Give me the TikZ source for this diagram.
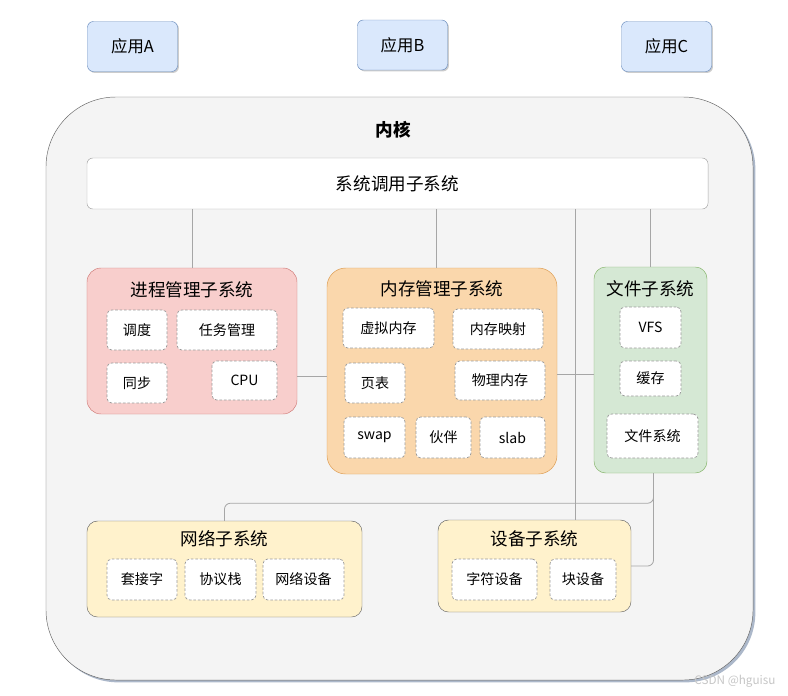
\documentclass[tikz,border=0pt]{standalone}
\usepackage{fontspec}
\setmainfont{Noto Sans CJK SC}
\usetikzlibrary{positioning, calc, shadows}

\definecolor{appfill}{HTML}{DAE8FC}
\definecolor{appdraw}{HTML}{6C8EBF}
\definecolor{kernfill}{HTML}{F4F4F4}
\definecolor{kerndraw}{HTML}{666666}
\definecolor{procfill}{HTML}{F8CECC}
\definecolor{procdraw}{HTML}{D07B78}
\definecolor{memfill}{HTML}{FAD7AC}
\definecolor{memdraw}{HTML}{DC9A4E}
\definecolor{fsfill}{HTML}{D5E8D4}
\definecolor{fsdraw}{HTML}{82B366}
\definecolor{devfill}{HTML}{FFF2CC}
\definecolor{linkgray}{HTML}{A6A6A6}

\begin{document}
\begin{tikzpicture}[x=0.03cm, y=-0.03cm,
  app/.style={rectangle,draw=appdraw,fill=appfill,rounded corners=5pt, minimum width=2.7cm,minimum height=1.5cm,inner sep=0pt,font=\fontsize{14}{16}\selectfont, drop shadow={shadow xshift=1.2pt,shadow yshift=-1.2pt,fill=black!40,opacity=0.5}},
  kern/.style={rectangle,draw=kerndraw,fill=kernfill,rounded corners=2.1cm, minimum width=21.21cm,minimum height=17.49cm,inner sep=0pt, drop shadow={shadow xshift=2pt,shadow yshift=-2pt,fill=appdraw!60!gray,opacity=0.6}},
  sys/.style={rectangle,draw=linkgray,fill=white,rounded corners=5pt, minimum width=18.63cm,minimum height=1.53cm,inner sep=0pt,font=\fontsize{15}{18}\selectfont},
  proc/.style={rectangle,draw=procdraw,fill=procfill,rounded corners=12pt,inner sep=0pt},
  mem/.style={rectangle,draw=memdraw,fill=memfill,rounded corners=16pt,inner sep=0pt},
  fs/.style={rectangle,draw=fsdraw,fill=fsfill,rounded corners=10pt,inner sep=0pt},
  dev/.style={rectangle,draw=kerndraw,fill=devfill,rounded corners=9pt,inner sep=0pt},
  sub/.style={rectangle,draw=gray!80,line width=0.6pt,dash pattern=on 2.2pt off 1.6pt,fill=white,rounded corners=4pt, minimum height=1.2cm,inner sep=0pt,font=\fontsize{12}{14}\selectfont},
  ttl/.style={font=\fontsize{15}{18}\selectfont},
  link/.style={draw=linkgray,line width=0.7pt,rounded corners=5pt}
]
  \useasboundingbox (0,0) rectangle (788,695);

  \node[app](appa) at (132.5,46.5) {应用A};
  \node[app](appb) at (402.5,45)   {应用B};
  \node[app](appc) at (666.5,46.5) {应用C};

  \node[kern](kernel) at (399.5,388.5) {};
  \node[ttl,font=\fontsize{15}{18}\selectfont\bfseries](kernt) at (393,130) {内核};
  \node[sys](sys) at (397.5,183.5) {系统调用子系统};

  \node[proc,minimum width=6.3cm,minimum height=4.38cm](proc) at (192,341) {};
  \node[mem,minimum width=6.9cm,minimum height=6.18cm](mem) at (442,371) {};
  \node[fs,minimum width=3.39cm,minimum height=6.18cm](fs) at (650.5,370) {};
  \node[dev,minimum width=8.25cm,minimum height=2.88cm](net) at (224.5,569) {};
  \node[dev,minimum width=5.79cm,minimum height=2.76cm](dev) at (534.5,566) {};
  \coordinate (devin) at ($(dev.north)!0.42!(dev.north east)$);

  \draw[link] (proc.north) -- (proc.north |- sys.south);
  \draw[link] (mem.north) ++(-6,0) -- ++(0,-59);
  \draw[link] (fs.north) -- (fs.north |- sys.south);
  \draw[link] (devin) -- (devin |- sys.south);
  \draw[link] (mem.west) ++(0,5) -- (proc.east |- 0,376);
  \draw[link] (mem.east) ++(0,3) -- (fs.west |- 0,374);
  \draw[link] (fs.south) ++(3,0) -- ++(0,30) -| (net.north);
  \draw[link] (fs.south) ++(3,0) |- (dev.east);

  \node[ttl](proct) at (192,290) {进程管理子系统};
  \node[sub,minimum width=1.8cm](sched) at (137,330)   {调度};
  \node[sub,minimum width=3.0cm](task)  at (227,330)   {任务管理};
  \node[sub,minimum width=1.8cm](sync)  at (137,383)   {同步};
  \node[sub,minimum width=1.95cm,minimum height=1.17cm](cpu) at (244.5,380.5) {CPU};

  \node[ttl](memt) at (442,289) {内存管理子系统};
  \node[sub,minimum width=2.73cm](vmem)  at (388.5,328) {虚拟内存};
  \node[sub,minimum width=2.7cm](mmap)   at (498,329)   {内存映射};
  \node[sub,minimum width=1.8cm](ptab)   at (375,383)   {页表};
  \node[sub,minimum width=2.7cm,minimum height=1.17cm](pmem) at (500,380.5) {物理内存};
  \node[sub,minimum width=1.83cm,minimum height=1.23cm](swap)  at (374.5,437.5) {swap};
  \node[sub,minimum width=1.65cm,minimum height=1.23cm](buddy) at (443.5,437.5) {伙伴};
  \node[sub,minimum width=1.95cm,minimum height=1.23cm](slab)  at (512.5,437.5) {slab};

  \node[ttl](fst) at (650.5,289) {文件子系统};
  \node[sub,minimum width=1.83cm,minimum height=1.23cm](vfs)   at (650.5,327.5) {VFS};
  \node[sub,minimum width=1.83cm,minimum height=1.05cm](cache) at (650.5,378.5) {缓存};
  \node[sub,minimum width=2.73cm,minimum height=1.32cm](fsys)  at (652.5,436)   {文件系统};

  \node[ttl](nett) at (224.5,539) {网络子系统};
  \node[sub,minimum width=2.1cm,minimum height=1.23cm](sock)   at (142,579.5)   {套接字};
  \node[sub,minimum width=2.13cm,minimum height=1.23cm](stack) at (220.5,579.5) {协议栈};
  \node[sub,minimum width=2.43cm,minimum height=1.23cm](netdev) at (303.5,579.5) {网络设备};

  \node[ttl](devt) at (534.5,539) {设备子系统};
  \node[sub,minimum width=2.55cm,minimum height=1.23cm](chardev)  at (494.5,579.5) {字符设备};
  \node[sub,minimum width=1.98cm,minimum height=1.23cm](blockdev) at (583,579.5)   {块设备};

  \node[text=gray!45,font=\fontsize{10}{12}\selectfont](mark) at (735,681) {CSDN @hguisu};
\end{tikzpicture}
\end{document}
